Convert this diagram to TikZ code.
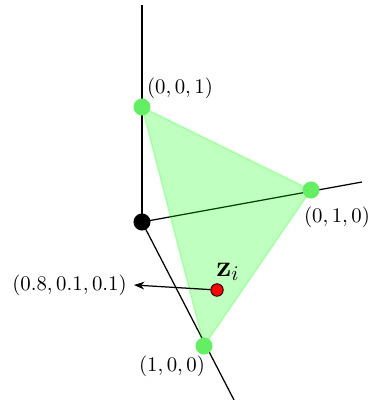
\documentclass[tikz,border=0pt]{standalone}
\usepackage{xcolor}
\usepackage{tikz}
\usetikzlibrary{arrows.meta,positioning}
\usepackage{amsmath,amssymb}
\definecolor{vgreen}{RGB}{100,238,100}

\begin{document}
\begin{tikzpicture}[x=0.0169cm,y=-0.0169cm,
  corner/.style={circle,fill=vgreen,minimum size=8.2pt,inner sep=0pt},
  origin/.style={circle,fill=black,minimum size=8.2pt,inner sep=0pt},
  sample/.style={circle,draw=black,fill=red,minimum size=6pt,inner sep=0pt,line width=0.4pt},
  axis/.style={line width=0.6pt},
  lbl/.style={font=\normalsize}
]
  \useasboundingbox (0,0) rectangle (374,400);
  % axes
  \coordinate (zend) at (142,5);
  \coordinate (yend) at (362,182);
  \coordinate (xend) at (234,400);
  \coordinate (o) at (142,222);
  \draw[axis] (o) -- (zend);
  \draw[axis] (o) -- (yend);
  \draw[axis] (o) -- (xend);
  % simplex
  \coordinate (e3) at (142,107);
  \coordinate (e2) at (311,190);
  \coordinate (e1) at (204,346);
  \fill[green,opacity=0.25] (e1) -- (e2) -- (e3) -- cycle;
  \draw[green,opacity=0.2,line width=0.8pt] (e1) -- (e2) -- (e3) -- cycle;
  \node[origin] (on) at (o) {};
  \node[corner] (c3) at (e3) {};
  \node[corner] (c2) at (e2) {};
  \node[corner] (c1) at (e1) {};
  \node[lbl] (l3) at (180,88) {$(0,0,1)$};
  \node[lbl] (l2) at (337,217) {$(0,1,0)$};
  \node[lbl] (l1) at (172,366) {$(1,0,0)$};
  % sample point
  \node[sample] (zi) at (217,290) {};
  \node[font=\Large] (zlab) at (228,272) {$\mathbf{z}_i$};
  \coordinate (tip) at (134,285);
  \draw[-{Stealth[length=5pt]},line width=0.6pt] (zi) -- (tip);
  \node[lbl,anchor=east] (val) at (tip) {$(0.8,0.1,0.1)$};
\end{tikzpicture}
\end{document}
